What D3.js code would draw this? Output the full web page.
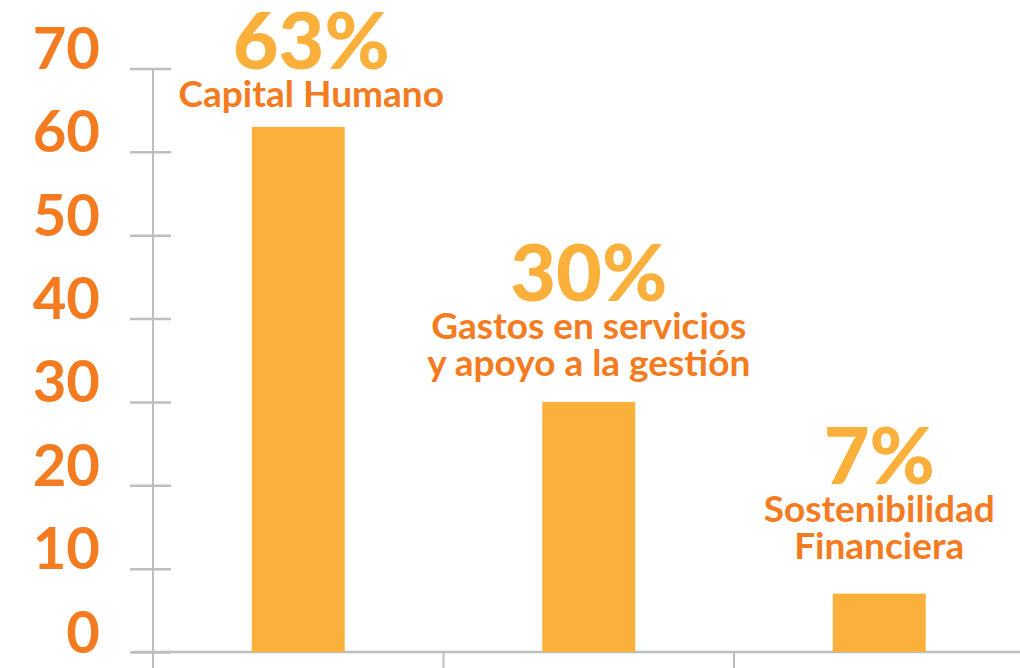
<!DOCTYPE html>
<html>
<head>
<meta charset="utf-8">
<script src="https://cdn.jsdelivr.net/npm/d3@7"></script>
<style>
  body { margin: 0; background: #fff; }
  svg { display: block; font-family: Lato, sans-serif; }
</style>
</head>
<body>
<svg></svg>
<script>
// data
const categories = ["Capital Humano", "Gastos en servicios y apoyo a la gestión", "Sostenibilidad Financiera"];
const labelLines = [["Capital Humano"], ["Gastos en servicios", "y apoyo a la gestión"], ["Sostenibilidad", "Financiera"]];
const values = [63, 30, 7];
const yTicks = [0, 10, 20, 30, 40, 50, 60, 70];

const width = 1020;
const height = 668;
const margin = { top: 68.5, bottom: 16, left: 153 };

const orange = "#f47b20";
const yellow = "#fbb03b";
const grey = "#bcbec0";

const svg = d3.select("svg")
    .attr("width", width)
    .attr("height", height);

const x = d3.scaleBand()
    .domain(categories)
    .range([margin.left, margin.left + 3 * 290.5])
    .paddingInner(0.68)
    .paddingOuter(0.34);

const y = d3.scaleLinear()
    .domain([0, 70])
    .range([height - margin.bottom, margin.top]);

// y axis: ticks cross the line, labels sit on the tick
const yAxis = svg.append("g")
    .attr("transform", `translate(${margin.left},0)`)
    .call(d3.axisLeft(y).tickValues(yTicks).tickSize(0).tickFormat(d3.format("d")));

yAxis.select(".domain").remove();
yAxis.append("line")
    .attr("y1", y(0)).attr("y2", y(70) - 0.5)
    .attr("stroke", grey).attr("stroke-width", 2);

yAxis.selectAll(".tick line")
    .attr("x1", -23).attr("x2", 18)
    .attr("stroke", grey).attr("stroke-width", 2.5);

yAxis.selectAll(".tick text")
    .attr("x", -53)
    .attr("dy", 0)
    .attr("fill", orange)
    .style("font-family", "Lato, sans-serif")
    .style("font-weight", 700)
    .style("font-size", "58px")
    .attr("text-anchor", "end");

// x axis: ticks at band edges
const xAxis = svg.append("g")
    .attr("transform", `translate(0,${y(0)})`);

xAxis.append("line")
    .attr("x1", 132).attr("x2", width)
    .attr("stroke", grey).attr("stroke-width", 2.5);

const edge = d => x(d) - x.step() * x.paddingInner() / 2;

xAxis.selectAll(".xtick")
    .data(categories)
    .enter()
    .append("line")
    .attr("class", "xtick")
    .attr("x1", edge)
    .attr("x2", edge)
    .attr("y1", 0).attr("y2", 18)
    .attr("stroke", grey).attr("stroke-width", 2);

// bars
svg.selectAll(".bar")
    .data(values)
    .enter()
    .append("rect")
    .attr("class", "bar")
    .attr("x", (d, i) => x(categories[i]))
    .attr("width", x.bandwidth())
    .attr("y", d => y(d))
    .attr("height", d => y(0) - y(d))
    .attr("fill", yellow);

// labels above bars
const gaps = [20, 26, 35];
const lab = svg.selectAll(".lab")
    .data(values)
    .enter()
    .append("g")
    .attr("class", "lab")
    .attr("transform", (d, i) => {
        const cx = x(categories[i]) + x.bandwidth() / 2 + (i === 0 ? 13 : 0);
        return `translate(${cx},${y(d) - gaps[i]})`;
    });

lab.each(function (d, i) {
    const g = d3.select(this);
    const lines = labelLines[i];
    lines.forEach((t, j) => {
        g.append("text")
            .attr("y", -(lines.length - 1 - j) * 37)
            .attr("text-anchor", "middle")
            .attr("fill", orange)
            .style("font-weight", 700)
            .style("font-size", "37px")
            .text(t);
    });
    g.append("text")
        .attr("y", -(lines.length) * 37 - 1)
        .attr("text-anchor", "middle")
        .attr("fill", yellow)
        .style("font-weight", 900)
        .style("font-size", "79px")
        .text(d + "%");
});
</script>
</body>
</html>
